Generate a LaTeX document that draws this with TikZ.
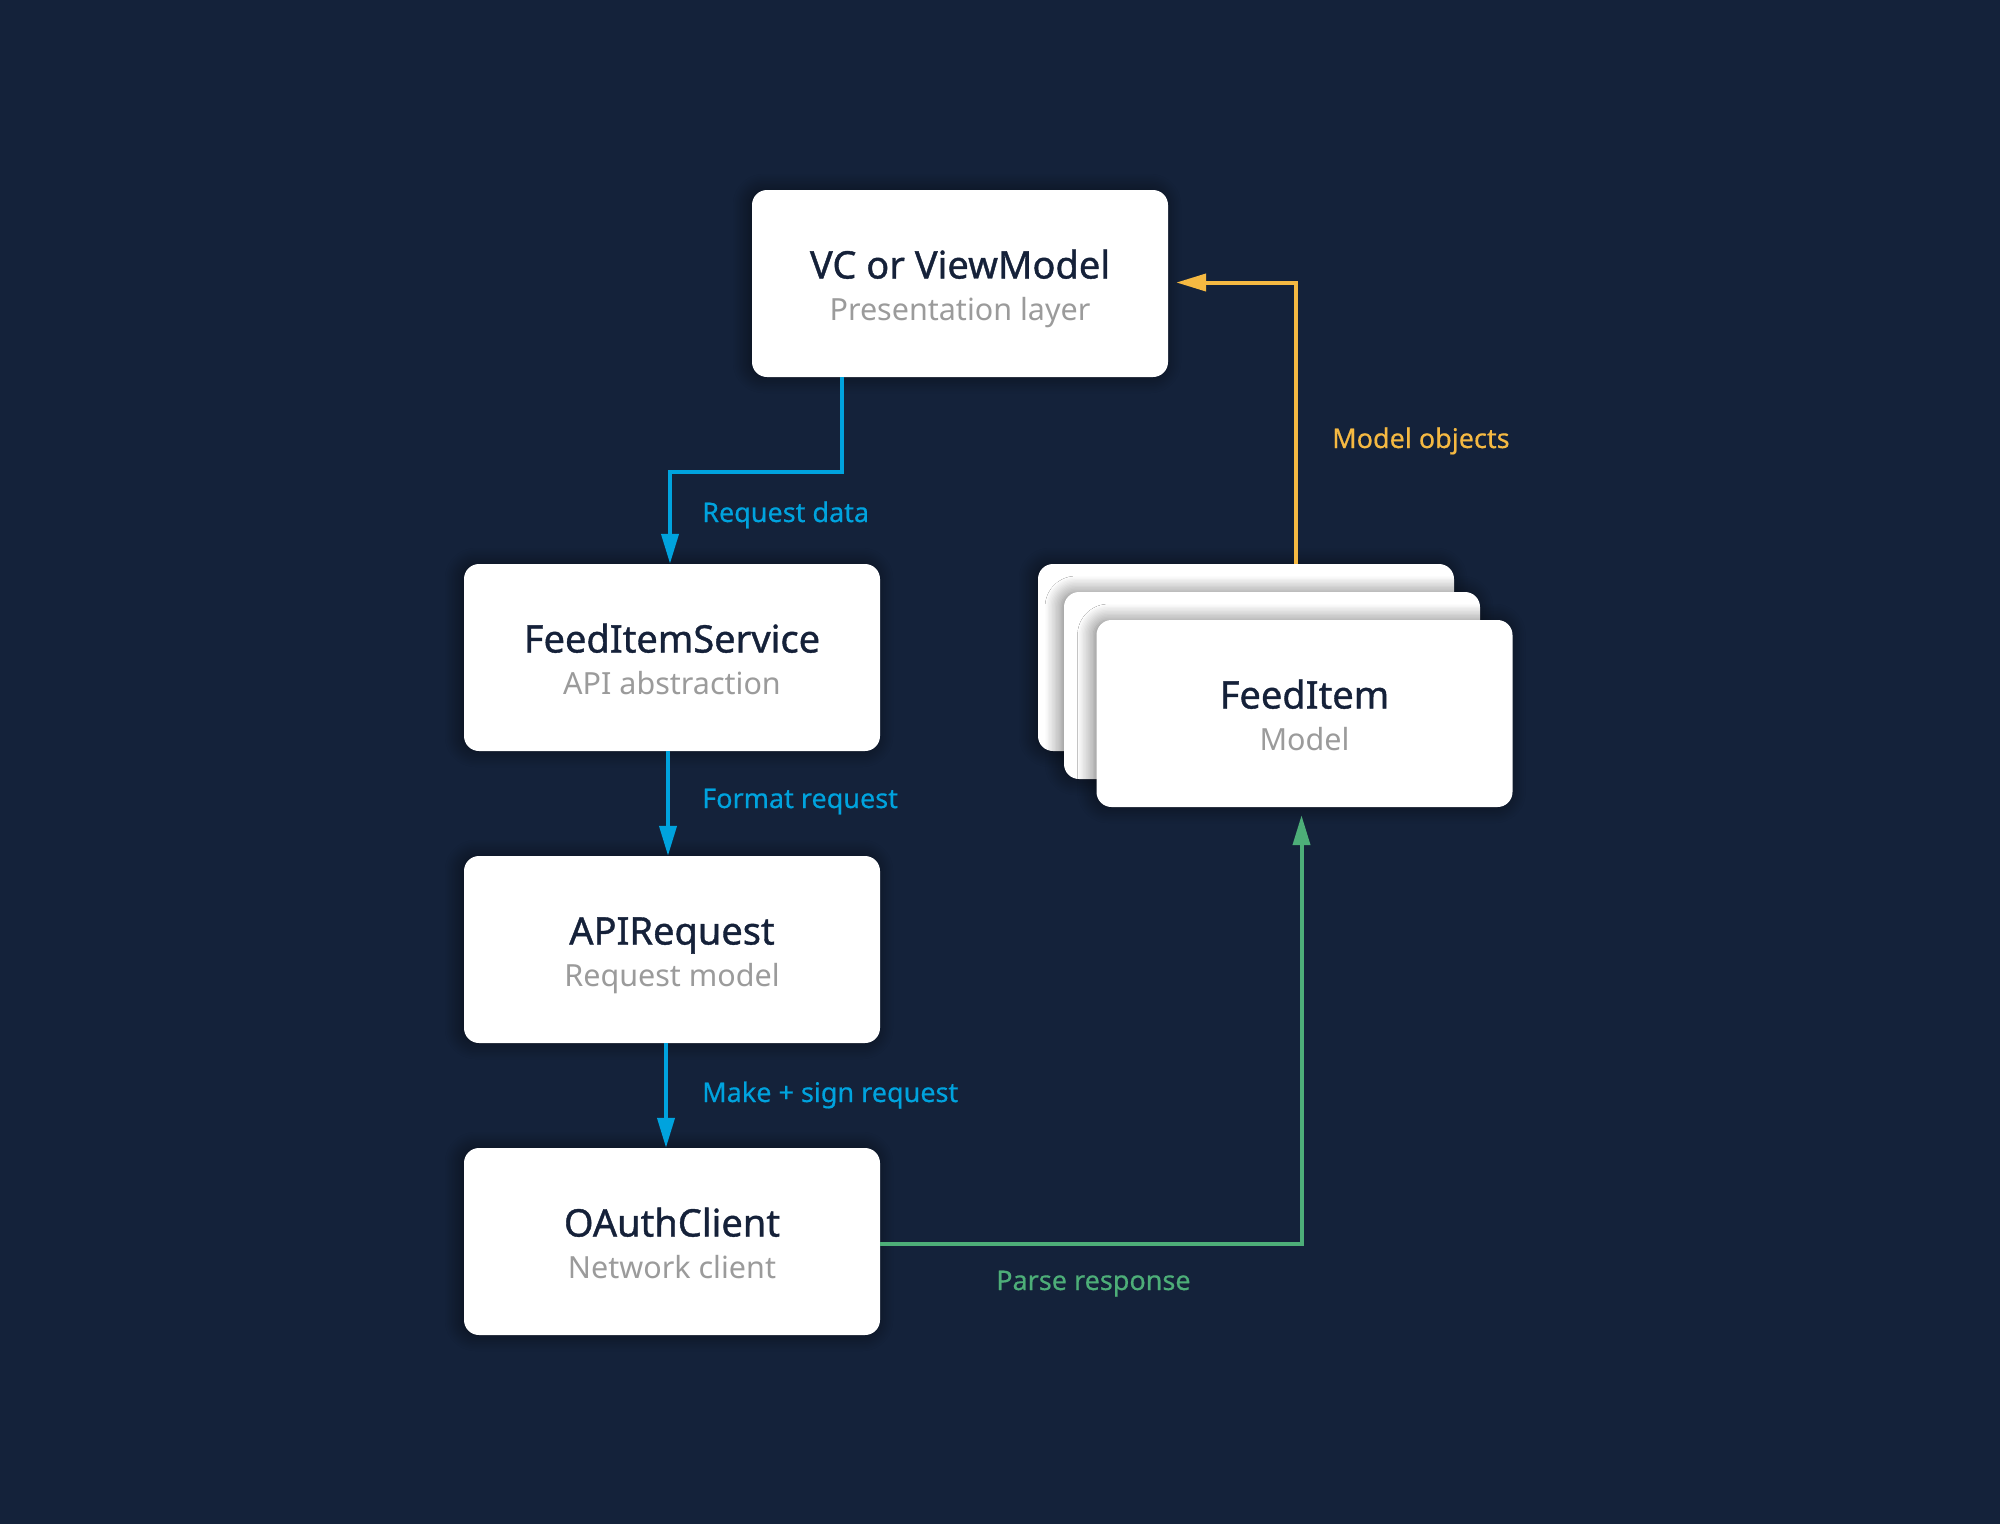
\documentclass[tikz,border=0pt]{standalone}
\usepackage{fontspec}
\setmainfont{Noto Sans}
\newfontfamily\medfont{Noto Sans}[FakeBold=1.0]
\newfontfamily\lblfont{Noto Sans}[FakeBold=0.5]
\usetikzlibrary{arrows.meta,shadows.blur,calc}
\definecolor{bgc}{RGB}{20,34,58}
\definecolor{titlec}{RGB}{21,33,57}
\definecolor{subc}{RGB}{155,155,155}
\definecolor{bluec}{RGB}{0,163,222}
\definecolor{orangec}{RGB}{245,185,66}
\definecolor{greenc}{RGB}{77,174,120}
\tikzset{
  card/.style={draw=none, fill=white, rounded corners=15pt, minimum width=416pt, minimum height=187pt, inner sep=0pt,
    blur shadow={shadow xshift=-3pt, shadow yshift=0pt, shadow blur radius=16pt, shadow opacity=55, shadow blur steps=12}},
  ttl/.style={anchor=base, inner sep=0pt, text=titlec, font=\medfont\fontsize{38}{44}\selectfont},
  sub/.style={anchor=base, inner sep=0pt, text=subc, font=\fontsize{30.5}{36}\selectfont},
  lbl/.style={anchor=base west, inner sep=0pt, font=\lblfont\fontsize{27}{32}\selectfont},
  conn/.style={line width=4pt, -{Triangle[length=30pt,width=17pt]}},
}
\begin{document}
\begin{tikzpicture}[x=1pt,y=-1pt]
\fill[bgc] (0,0) rectangle (2000,1524);
\useasboundingbox (0,0) rectangle (2000,1524);

% cards
\node[card] (vc) at (960,283.5) {};
\node[card] (fis) at (672,657.5) {};
\node[card] (api) at (672,949.5) {};
\node[card] (oauth) at (672,1241.5) {};
\node[card] (back) at (1246,657.5) {};
\node[card] (mid) at (1272,685.5) {};
\node[card] (front) at (1304.5,713.5) {};

% texts
\node[ttl] (vct) at ($(vc.center)+(0,-5)$) {VC or ViewModel};
\node[sub] (vcs) at ($(vc.center)+(0,37)$) {Presentation layer};
\node[ttl] (fist) at ($(fis.center)+(0,-5)$) {FeedItemService};
\node[sub] (fiss) at ($(fis.center)+(0,37)$) {API abstraction};
\node[ttl] (apit) at ($(api.center)+(0,-5)$) {APIRequest};
\node[sub] (apis) at ($(api.center)+(0,37)$) {Request model};
\node[ttl] (oat) at ($(oauth.center)+(0,-5)$) {OAuthClient};
\node[sub] (oas) at ($(oauth.center)+(0,37)$) {Network client};
\node[ttl] (frt) at ($(front.center)+(0,-5)$) {FeedItem};
\node[sub] (frs) at ($(front.center)+(0,37)$) {Model};

% connectors
\draw[conn, bluec] ([xshift=-118pt]vc.south) -- ++(0,95) -| ([xshift=-2pt]fis.north);
\draw[conn, bluec] ([xshift=-4pt]fis.south) -- ([xshift=-4pt]api.north);
\draw[conn, bluec] ([xshift=-6pt]api.south) -- ([xshift=-6pt]oauth.north);
\draw[conn, greenc, shorten >=8pt] ([yshift=-2.5pt]oauth.east) -| ([xshift=-3pt]front.south);
\draw[conn, orangec, shorten >=8pt] ([xshift=50pt]back.north) |- ([yshift=1pt]vc.east);

% labels
\node[lbl, text=bluec] (l1) at (702,522) {Request data};
\node[lbl, text=bluec] (l2) at (702,808) {Format request};
\node[lbl, text=bluec] (l3) at (702,1102) {Make + sign request};
\node[lbl, text=greenc] (l4) at (996,1290) {Parse response};
\node[lbl, text=orangec] (l5) at (1332,448) {Model objects};
\end{tikzpicture}
\end{document}
